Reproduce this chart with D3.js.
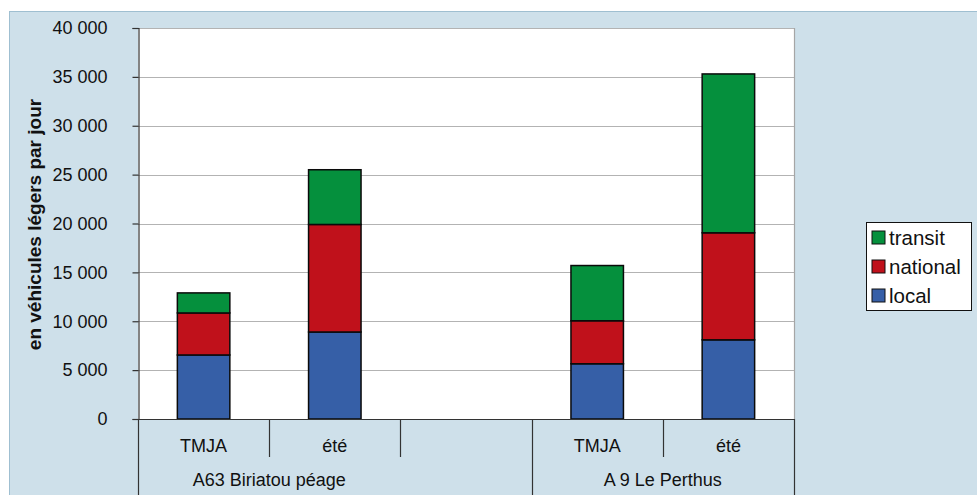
<!DOCTYPE html>
<html>
<head>
<meta charset="utf-8">
<script src="https://cdn.jsdelivr.net/npm/d3@7"></script>
<style>
  html, body { margin: 0; padding: 0; background: #ffffff; }
  svg { display: block; font-family: "Liberation Sans", Arial, sans-serif; }
</style>
</head>
<body>
<svg id="chart" width="977" height="495"></svg>
<script>
// Traffic counts (light vehicles per day), stacked by traffic type
const slots = ["b-tmja", "b-ete", "gap", "p-tmja", "p-ete"];
const slotLabels = ["TMJA", "été", "", "TMJA", "été"];
const groups = [
  { name: "A63 Biriatou péage", from: 0, to: 2, labelFrom: 0, labelTo: 1 },
  { name: "A 9 Le Perthus", from: 3, to: 4, labelFrom: 3, labelTo: 4 }
];
const seriesKeys = ["local", "national", "transit"];
const localVals    = [6550, 8900, null, 5650, 8100];
const nationalVals = [4300, 11000, null, 4400, 10950];
const transitVals  = [2050, 5600, null, 5650, 16250];
const yTicks = [0, 5000, 10000, 15000, 20000, 25000, 30000, 35000, 40000];
const colors = { local: "#365fa7", national: "#c0111b", transit: "#05903d" };

const svg = d3.select("#chart");
const W = 977, H = 495;
const plot = { left: 138, right: 794, top: 28, bottom: 419 };
const fontFamily = "\"Liberation Sans\", Arial, sans-serif";

// chart background panel
svg.append("rect").attr("x", 9.5).attr("y", 11.5).attr("width", W).attr("height", H)
  .attr("fill", "#cee0ea").attr("stroke", "#9fbfd1").attr("stroke-width", 1);

// plot area
svg.append("rect").attr("x", plot.left).attr("y", plot.top)
  .attr("width", plot.right - plot.left).attr("height", plot.bottom - plot.top)
  .attr("fill", "#ffffff");

const x = d3.scaleBand().domain(slots).range([plot.left, plot.right]).paddingInner(0).paddingOuter(0);
const y = d3.scaleLinear().domain([0, 40000]).range([plot.bottom, plot.top]);

// gridlines
svg.append("g").selectAll("line").data(yTicks.filter(t => t > 0)).join("line")
  .attr("x1", plot.left).attr("x2", plot.right)
  .attr("y1", d => Math.round(y(d)) + 0.5).attr("y2", d => Math.round(y(d)) + 0.5)
  .attr("stroke", "#b3b3b3").attr("stroke-width", 1.2);

// plot area right border
svg.append("line").attr("x1", plot.right + 0.5).attr("x2", plot.right + 0.5)
  .attr("y1", plot.top).attr("y2", plot.bottom).attr("stroke", "#a6a6a6").attr("stroke-width", 1.2);

// stacked bars
const rows = slots.map((s, i) => ({ slot: s, local: localVals[i], national: nationalVals[i], transit: transitVals[i] }))
  .filter(r => r.local !== null);
const stacked = d3.stack().keys(seriesKeys)(rows);
const barW = x.bandwidth() * 0.4;
svg.append("g").selectAll("g").data(stacked).join("g")
  .attr("fill", d => colors[d.key])
  .selectAll("rect").data(d => d).join("rect")
  .attr("x", d => x(d.data.slot) + (x.bandwidth() - barW) / 2)
  .attr("width", barW)
  .attr("y", d => y(d[1]))
  .attr("height", d => y(d[0]) - y(d[1]))
  .attr("stroke", "#0a0a0a").attr("stroke-width", 1.5);

// y axis
const yAxis = d3.axisLeft(y).tickValues(yTicks).tickSize(6).tickPadding(25)
  .tickFormat(d => d3.format(",")(d).replace(/,/g, " "));
const ya = svg.append("g").attr("transform", `translate(${plot.left + 0.5},0)`).call(yAxis);
ya.select(".domain").attr("stroke", "#333").attr("stroke-width", 1.2);
ya.selectAll(".tick line").attr("stroke", "#333").attr("stroke-width", 1.2);
ya.selectAll(".tick text").attr("font-size", 18).attr("fill", "#111")
  .attr("font-family", fontFamily);

// y axis title
svg.append("text")
  .attr("transform", `translate(41,${(plot.top + plot.bottom) / 2 + 1}) rotate(-90)`)
  .attr("text-anchor", "middle").attr("font-size", 19).attr("font-weight", "bold").attr("fill", "#111")
  .text("en véhicules légers par jour");

// category axis: baseline, dividers and labels
const axisColor = "#333";
svg.append("line").attr("x1", plot.left).attr("x2", plot.right + 1)
  .attr("y1", plot.bottom + 0.5).attr("y2", plot.bottom + 0.5)
  .attr("stroke", axisColor).attr("stroke-width", 1.2);

const bounds = slots.map(s => x(s)).concat([plot.right]);
const groupEdges = new Set();
groups.forEach(g => { groupEdges.add(g.from); groupEdges.add(g.to + 1); });
svg.append("g").selectAll("line").data(bounds.map((b, i) => ({ b, i }))).join("line")
  .attr("x1", d => Math.round(d.b) + 0.5).attr("x2", d => Math.round(d.b) + 0.5)
  .attr("y1", plot.bottom)
  .attr("y2", d => groupEdges.has(d.i) ? H : 457)
  .attr("stroke", axisColor).attr("stroke-width", 1.2);

svg.append("g").selectAll("text").data(slots).join("text")
  .attr("x", d => x(d) + x.bandwidth() / 2).attr("y", 452)
  .attr("text-anchor", "middle").attr("font-size", 18).attr("fill", "#111")
  .text((d, i) => slotLabels[i]);

svg.append("g").selectAll("text").data(groups).join("text")
  .attr("x", g => (x(slots[g.labelFrom]) + x(slots[g.labelTo]) + x.bandwidth()) / 2).attr("y", 486)
  .attr("text-anchor", "middle").attr("font-size", 18).attr("fill", "#111")
  .text(g => g.name);

// legend
const legend = svg.append("g").attr("transform", "translate(866,222)");
legend.append("rect").attr("x", 0.5).attr("y", 0.5).attr("width", 105).attr("height", 88)
  .attr("fill", "#ffffff").attr("stroke", "#111").attr("stroke-width", 1);
const legendKeys = ["transit", "national", "local"];
const li = legend.selectAll("g").data(legendKeys).join("g")
  .attr("transform", (d, i) => `translate(6,${9 + i * 29})`);
li.append("rect").attr("x", 0).attr("y", 0).attr("width", 13).attr("height", 13)
  .attr("fill", d => colors[d]).attr("stroke", "#111").attr("stroke-width", 1);
li.append("text").attr("x", 17).attr("y", 14).attr("font-size", 20.5).attr("fill", "#111").text(d => d);
</script>
</body>
</html>
